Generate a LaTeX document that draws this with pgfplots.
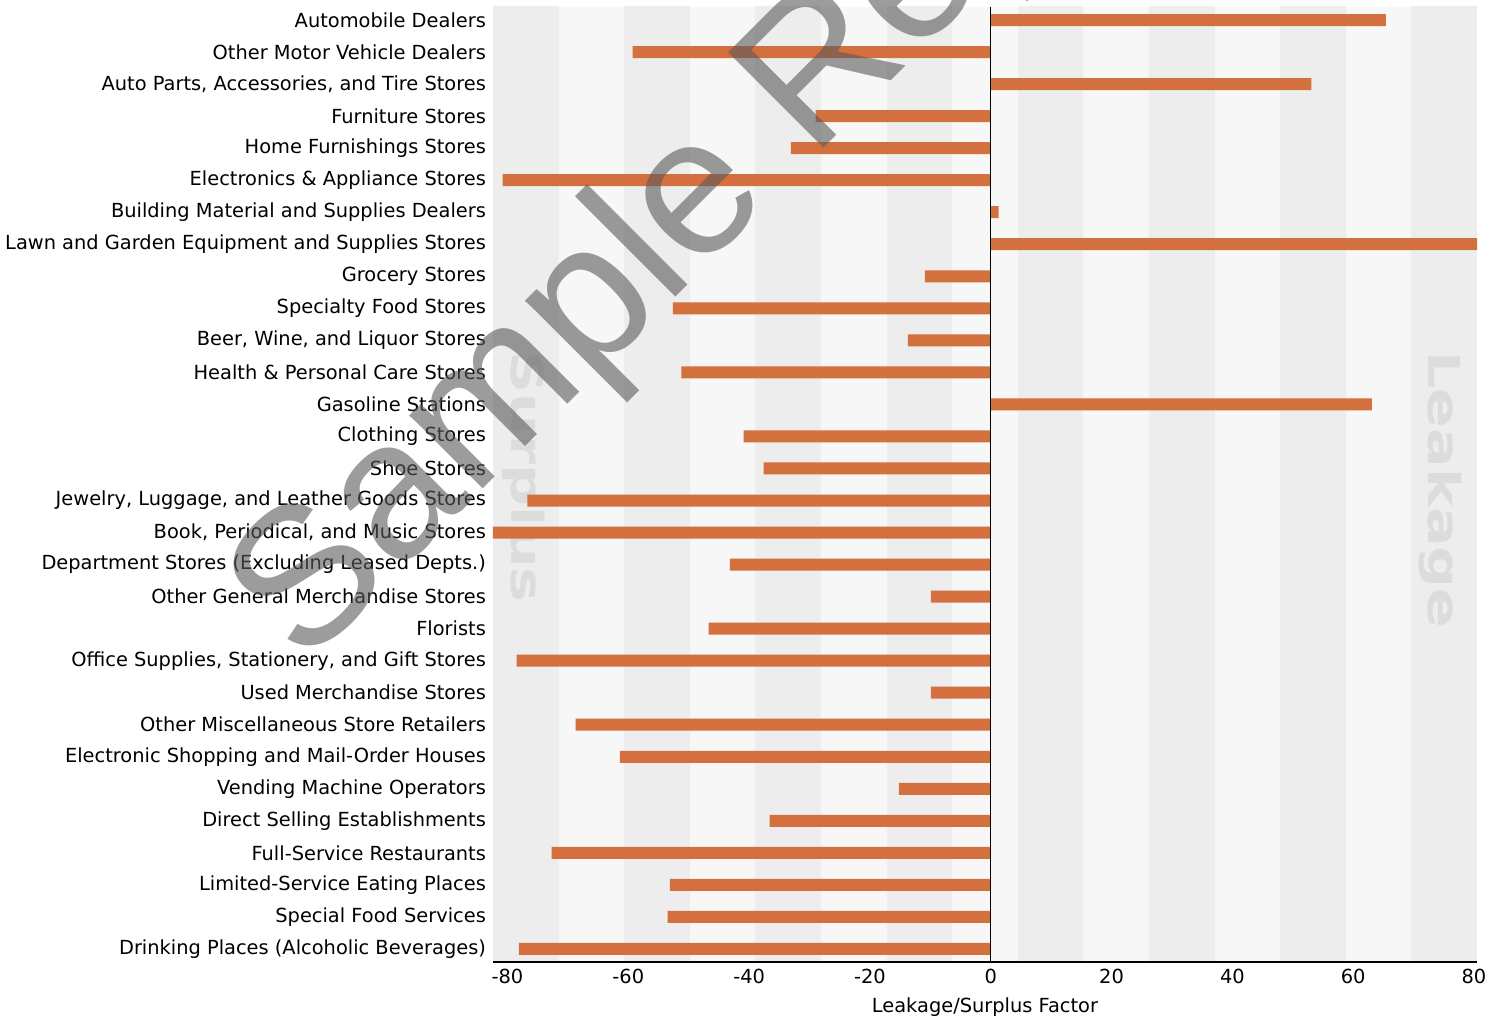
\documentclass[border=0pt]{standalone}
\usepackage{pgfplots}
\pgfplotsset{compat=1.18}
\usepackage{fontspec}
\setmainfont{DejaVu Sans}
\newfontfamily\wmfont{Liberation Sans}
\definecolor{barc}{HTML}{D4703E}
\definecolor{bdark}{HTML}{EDEDED}
\definecolor{blight}{HTML}{F7F7F7}
\definecolor{slc}{HTML}{DCDCDC}
\definecolor{wm}{HTML}{5A5A5A}
\pgfplotstableread{
i v
0 65.4
1 -59.3
2 53.1
3 -29.0
4 -33.1
5 -80.8
6 1.3
7 80.5
8 -10.9
9 -52.6
10 -13.7
11 -51.2
12 63.1
13 -40.9
14 -37.6
15 -76.7
16 -82.4
17 -43.2
18 -9.9
19 -46.7
20 -78.5
21 -9.9
22 -68.7
23 -61.4
24 -15.2
25 -36.6
26 -72.7
27 -53.1
28 -53.5
29 -78.1
}\datatable
\begin{document}
\begin{tikzpicture}
\begin{axis}[
  scale only axis, width=492pt, height=477.5pt,
  xmin=-82.4, xmax=80.5, ymin=-0.406, ymax=29.406, y dir=reverse,
  xbar, bar width=6pt,
  axis background/.style={fill=blight},
  xtick={-80,-60,-40,-20,0,20,40,60,80},
  xticklabels={-80,-60,-40,-20,0,20,40,60,80},
  ytick={0,...,29},
  yticklabels={Automobile Dealers, Other Motor Vehicle Dealers, {Auto Parts, Accessories, and Tire Stores}, Furniture Stores, Home Furnishings Stores, Electronics \& Appliance Stores, Building Material and Supplies Dealers, Lawn and Garden Equipment and Supplies Stores, Grocery Stores, Specialty Food Stores, {Beer, Wine, and Liquor Stores}, Health \& Personal Care Stores, Gasoline Stations, Clothing Stores, Shoe Stores, {Jewelry, Luggage, and Leather Goods Stores}, {Book, Periodical, and Music Stores}, Department Stores (Excluding Leased Depts.), Other General Merchandise Stores, Florists, {Office Supplies, Stationery, and Gift Stores}, Used Merchandise Stores, Other Miscellaneous Store Retailers, Electronic Shopping and Mail-Order Houses, Vending Machine Operators, Direct Selling Establishments, Full-Service Restaurants, Limited-Service Eating Places, Special Food Services, Drinking Places (Alcoholic Beverages)},
  major tick length=0pt,
  axis x line*=bottom, axis y line*=left,
  y axis line style={draw=none},
  x axis line style={line width=0.75pt, -},
  tick label style={font=\fontsize{9.7}{11.6}\selectfont, text=black},
  label style={font=\fontsize{9.7}{11.6}\selectfont},
  xlabel={Leakage/Surplus Factor},
  axis on top,
  extra x ticks={0}, extra x tick labels={},
  extra x tick style={grid=major, major grid style={black, line width=0.75pt}},
]
\fill[bdark] (axis cs:-82.4,-1) rectangle (axis cs:-71.54,30);
\fill[bdark] (axis cs:-60.68,-1) rectangle (axis cs:-49.82,30);
\fill[bdark] (axis cs:-38.96,-1) rectangle (axis cs:-28.1,30);
\fill[bdark] (axis cs:-17.24,-1) rectangle (axis cs:-6.38,30);
\fill[bdark] (axis cs:4.48,-1) rectangle (axis cs:15.34,30);
\fill[bdark] (axis cs:26.2,-1) rectangle (axis cs:37.06,30);
\fill[bdark] (axis cs:47.92,-1) rectangle (axis cs:58.78,30);
\fill[bdark] (axis cs:69.64,-1) rectangle (axis cs:80.5,30);
\node[cm={0,-1.33,1,0,(0pt,0pt)}, text=slc, inner sep=0, font=\bfseries\fontsize{22}{22}\selectfont] at (axis cs:74.5,14.67) {Leakage};
\node[cm={0,-1.33,1,0,(0pt,0pt)}, text=slc, inner sep=0, font=\bfseries\fontsize{22}{22}\selectfont] at (axis cs:-77.3,14.27) {Surplus};
\addplot[fill=barc, draw=none] table[x=v, y=i] {\datatable};
\coordinate (SW) at (axis cs:-82.4,29.406);
\coordinate (NE) at (axis cs:80.5,-0.406);
\end{axis}
\node[rotate=45, anchor=base west, inner sep=0, text=wm, opacity=0.6, font=\wmfont\fontsize{98}{98}\selectfont] at ([shift={(-94.6pt,146.8pt)}]SW) {Sample Report};
\pgfresetboundingbox
\path[use as bounding box] ([shift={(-246.5pt,-27pt)}]SW) rectangle ([shift={(11.5pt,3.5pt)}]NE);
\end{tikzpicture}
\end{document}
